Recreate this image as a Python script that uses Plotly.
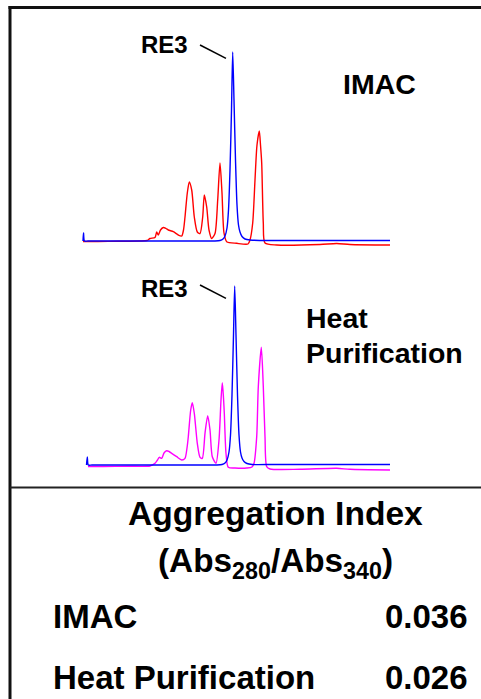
import plotly.graph_objects as go

# ---------------- data (elution time in min, absorbance in mAU) ----------------
# IMAC panel
imac_re3_t = [0, 0.05, 0.15, 0.5, 2, 6, 10, 12.5, 13.2, 13.7, 14.0, 14.2, 14.4, 14.55, 14.7,
              14.85, 14.97, 15.1, 15.25, 15.4, 15.55, 15.7, 15.9, 16.2, 16.7, 18.7, 22, 26, 30.7]
imac_re3_a = [0, 8, 0, 0, 0, 0, 0, 0, 0, 0.5, 2, 5, 13, 31, 71,
              131, 189, 141, 81, 36, 16, 9, 4.5, 2, 1, 0.5, 0.5, 0.5, 0.5]

imac_t = [0, 1.5, 3.5, 5.7, 6.4, 6.7, 7.2, 7.37, 7.53, 7.75, 8.03, 8.3, 8.53, 9.03, 9.53, 9.87,
          10.05, 10.2, 10.43, 10.63, 10.87, 11.13, 11.43, 11.7, 11.97, 12.13, 12.37,
          12.6, 12.87, 13.2, 13.47, 13.7, 13.9, 14.1, 14.37, 15.37, 16.5, 16.7, 16.97,
          17.2, 17.4, 17.63, 17.75, 17.87, 18.03, 18.2, 19.37, 23.7, 25.37, 26.7, 30.7]
imac_a = [-0.5, -0.5, -0.3, 0, 0.5, 2.5, 3.5, 9, 6, 11, 13.5, 12.5, 11, 9.3, 6, 5,
          11, 24, 48, 59, 51, 24, 9, 7.5, 24, 46, 34,
          11, 2.5, 7.5, 41, 78, 48, 8, -0.7, -2.3, -3, 1, 18,
          61, 96, 110, 96, 78, 18, -2, -4, -3.5, -2.5, -3.5, -4]

# Heat purification panel
heat_re3_t = [0.35, 0.43, 0.53, 0.9, 2.5, 6.5, 10.5, 12.7, 13.4, 13.9, 14.2, 14.4, 14.6, 14.75,
              14.9, 15.05, 15.17, 15.3, 15.45, 15.6, 15.75, 15.9, 16.1, 16.4, 16.9, 19, 22,
              26, 30.7]
heat_re3_a = [0, 8, 0, 0, 0, 0, 0, 0, 0, 0.5, 2, 5, 13, 30,
              70, 130, 179, 130, 70, 30, 13, 7, 3.5, 1.5, 0.5, 0.5, 0.5,
              0.5, 0.5]

heat_t = [0.5, 2, 4.5, 6.7, 7.2, 7.45, 7.63, 7.87, 8.1, 8.37, 8.6, 8.87, 9.37, 9.87, 10.2,
          10.4, 10.53, 10.77, 10.93, 11.13, 11.43, 11.7, 11.93, 12.2, 12.47, 12.7, 12.93,
          13.3, 13.6, 13.8, 13.93, 14.05, 14.13, 14.3, 14.53, 15.2, 16.37, 16.9, 17.1,
          17.37, 17.53, 17.83, 18.03, 18.2, 18.37, 18.7, 21.7, 25.37, 26.7, 30.7]
heat_a = [-1.5, -1.5, -1.2, -1, 1.7, 5, 7.7, 6.7, 12, 14.3, 13.5, 11.7, 8.3, 5, 6.7,
          17, 28.3, 55, 62.3, 51.7, 21.7, 7.7, 6.7, 31.7, 49.3, 35, 8.3,
          1.7, 25, 65, 82.3, 67, 51.7, 11.7, -2.3, -3, -3, -2, 1.7,
          28.3, 78.3, 117.7, 78.3, 28.3, -1.7, -4, -4.3, -3.3, -4.3, -5]

# labels
panel_labels = ["IMAC", "Heat", "Purification"]
peak_label = "RE3"
index_title = "Aggregation Index"
index_sub = "(Abs<sub>280</sub>/Abs<sub>340</sub>)"
methods = ["IMAC", "Heat Purification"]
agg_index = [0.036, 0.026]

# ---------------- figure ----------------
FONT = "Liberation Sans, Arial, sans-serif"
W, H = 481, 699


def px_x(p):
    return p / W


def px_y(p):
    return 1 - p / H


fig = go.Figure()
line_kw = dict(shape="spline", smoothing=0.7)
fig.add_trace(go.Scatter(x=imac_t, y=imac_a, mode="lines", xaxis="x", yaxis="y",
                         line=dict(color="#ff0000", width=1.4, **line_kw)))
fig.add_trace(go.Scatter(x=imac_re3_t, y=imac_re3_a, mode="lines", xaxis="x", yaxis="y",
                         line=dict(color="#0000ff", width=1.4, **line_kw)))
fig.add_trace(go.Scatter(x=heat_t, y=heat_a, mode="lines", xaxis="x2", yaxis="y2",
                         line=dict(color="#ff00ff", width=1.4, **line_kw)))
fig.add_trace(go.Scatter(x=heat_re3_t, y=heat_re3_a, mode="lines", xaxis="x2", yaxis="y2",
                         line=dict(color="#0000ff", width=1.4, **line_kw)))

xdom = [px_x(70), px_x(400)]
xr = [-1.3, 31.7]
ax_off = dict(visible=False, showgrid=False, zeroline=False, fixedrange=True)
fig.update_layout(
    width=W, height=H,
    margin=dict(l=0, r=0, t=0, b=0),
    paper_bgcolor="white", plot_bgcolor="rgba(0,0,0,0)",
    showlegend=False,
    xaxis=dict(domain=xdom, range=xr, anchor="y", **ax_off),
    yaxis=dict(domain=[px_y(255), px_y(40)], range=[-14, 201], anchor="x", **ax_off),
    xaxis2=dict(domain=xdom, range=xr, anchor="y2", **ax_off),
    yaxis2=dict(domain=[px_y(480), px_y(275)], range=[-15, 190], anchor="x2", **ax_off),
)

# frame lines
fig.add_shape(type="line", xref="paper", yref="paper",
              x0=px_x(8.5), x1=1.0, y0=px_y(7.5), y1=px_y(7.5),
              line=dict(color="#111111", width=3))
fig.add_shape(type="line", xref="paper", yref="paper",
              x0=px_x(10), x1=px_x(10), y0=px_y(6), y1=0,
              line=dict(color="#111111", width=3))
fig.add_shape(type="line", xref="paper", yref="paper",
              x0=px_x(10), x1=1.0, y0=px_y(487.5), y1=px_y(487.5),
              line=dict(color="#222222", width=2))

# RE3 leader lines (data coordinates)
fig.add_shape(type="line", xref="x", yref="y", x0=11.7, y0=196, x1=14.3, y1=182.7,
              line=dict(color="black", width=1.5))
fig.add_shape(type="line", xref="x2", yref="y2", x0=11.7, y0=180, x1=14.3, y1=166.7,
              line=dict(color="black", width=1.5))


def ann(text, x, y, size, xanchor="center", yanchor="middle"):
    fig.add_annotation(text=text, x=x, y=y, xref="paper", yref="paper",
                       xanchor=xanchor, yanchor=yanchor, showarrow=False,
                       font=dict(family=FONT, size=size, color="black"))


ann(f"<b>{peak_label}</b>", px_x(164), px_y(44.3), 24)
ann(f"<b>{peak_label}</b>", px_x(164), px_y(288.5), 24)
ann(f"<b>{panel_labels[0]}</b>", px_x(379.5), px_y(84.5), 28.5)
ann(f"<b>{panel_labels[1]}</b>", px_x(304), px_y(317.5), 28.5, xanchor="left")
ann(f"<b>{panel_labels[2]}</b>", px_x(304), px_y(352.5), 28.5, xanchor="left")

ann(f"<b>{index_title}</b>", px_x(275.5), px_y(513.5), 33.6)
ann(f"<b>{index_sub}</b>", px_x(275.5), px_y(540), 33.3, yanchor="top")
rows_y = [616, 677]
for name, val, ry in zip(methods, agg_index, rows_y):
    ann(f"<b>{name}</b>", px_x(51), px_y(ry), 33, xanchor="left")
    ann(f"<b>{val:.3f}</b>", px_x(470), px_y(ry), 33, xanchor="right")

fig.write_html(
    "out.html",
    config={"displayModeBar": False},
    post_script="document.body.style.margin='0';document.body.style.padding='0';"
                "document.body.style.overflow='hidden';"
                "document.documentElement.style.overflow='hidden';",
)
